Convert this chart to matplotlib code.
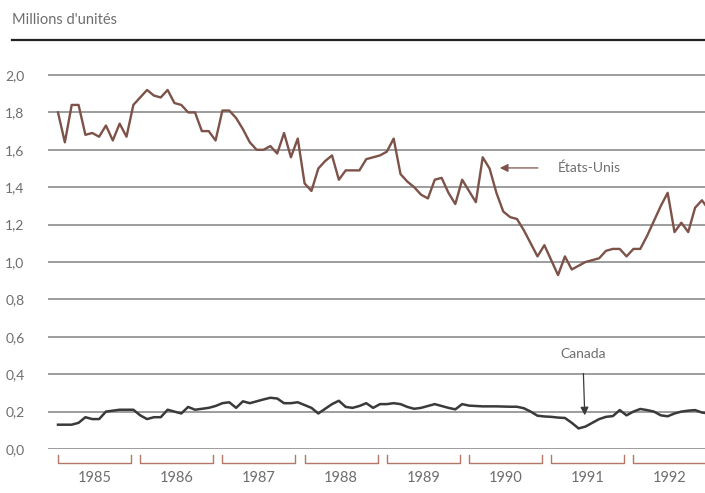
import numpy as np
import matplotlib
matplotlib.use("Agg")
import matplotlib.pyplot as plt

############################################
# DATA (millions d'unités, mensuel 1985-1992)
############################################

years = ["1985", "1986", "1987", "1988", "1989", "1990", "1991", "1992"]

etats_unis = [
    1.80, 1.64, 1.84, 1.84, 1.68, 1.69, 1.67, 1.73, 1.65, 1.74, 1.67, 1.84,  # 1985
    1.88, 1.92, 1.89, 1.88, 1.92, 1.85, 1.84, 1.80, 1.80, 1.70, 1.70, 1.65,  # 1986
    1.81, 1.81, 1.77, 1.71, 1.64, 1.60, 1.60, 1.62, 1.58, 1.69, 1.56, 1.66,  # 1987
    1.42, 1.38, 1.50, 1.54, 1.57, 1.44, 1.49, 1.49, 1.49, 1.55, 1.56, 1.57,  # 1988
    1.59, 1.66, 1.47, 1.43, 1.40, 1.36, 1.34, 1.44, 1.45, 1.37, 1.31, 1.44,  # 1989
    1.38, 1.32, 1.56, 1.50, 1.37, 1.27, 1.24, 1.23, 1.17, 1.10, 1.03, 1.09,  # 1990
    1.01, 0.93, 1.03, 0.96, 0.98, 1.00, 1.01, 1.02, 1.06, 1.07, 1.07, 1.03,  # 1991
    1.07, 1.07, 1.14, 1.22, 1.30, 1.37, 1.16, 1.21, 1.16, 1.29, 1.33, 1.28,  # 1992
]

canada = [
    0.13, 0.13, 0.13, 0.14, 0.17, 0.16, 0.16, 0.20, 0.205, 0.21, 0.21, 0.21,
    0.18, 0.16, 0.17, 0.17, 0.21, 0.20, 0.19, 0.225, 0.21, 0.215, 0.22, 0.23,
    0.245, 0.25, 0.22, 0.255, 0.245, 0.255, 0.265, 0.274, 0.27, 0.245, 0.245, 0.25,
    0.235, 0.22, 0.19, 0.215, 0.24, 0.258, 0.225, 0.22, 0.23, 0.245, 0.22, 0.24,
    0.24, 0.245, 0.24, 0.225, 0.215, 0.22, 0.23, 0.24, 0.23, 0.22, 0.212, 0.24,
    0.232, 0.23, 0.228, 0.228, 0.228, 0.227, 0.226, 0.226, 0.218, 0.20, 0.178, 0.174,
    0.172, 0.168, 0.166, 0.14, 0.11, 0.12, 0.14, 0.16, 0.172, 0.176, 0.208, 0.18,
    0.20, 0.214, 0.208, 0.20, 0.18, 0.175, 0.19, 0.20, 0.205, 0.208, 0.195, 0.19,
]

y_ticks = [0.0, 0.2, 0.4, 0.6, 0.8, 1.0, 1.2, 1.4, 1.6, 1.8, 2.0]
y_labels = ["0,0", "0,2", "0,4", "0,6", "0,8", "1,0", "1,2", "1,4", "1,6", "1,8", "2,0"]

############################################
# STYLE
############################################

plt.rcParams["font.family"] = ["Lato", "DejaVu Sans"]

US_COLOR = "#7d5249"
CA_COLOR = "#3a3a3a"
GRID_COLOR = "#8c8c8c"
TEXT_COLOR = "#6e6e6e"
BRACKET_COLOR = "#b5766a"

W, H = 705, 493
fig = plt.figure(figsize=(W / 100, H / 100), dpi=100)

# axes: x from pixel 48 to 705, y from pixel 55 (top) to 449 (value 0)
ax = fig.add_axes([48 / W, (H - 449) / H, (W - 48) / W, (449 - 55) / H])

months = np.arange(len(etats_unis))
ax.set_xlim(-1.46, 94.45)
ax.set_ylim(0, 2.107)

for v in y_ticks:
    ax.axhline(v, color=GRID_COLOR, lw=1.2, zorder=1)

ax.plot(months, etats_unis, color=US_COLOR, lw=1.7, zorder=3)
ax.plot(months, canada, color=CA_COLOR, lw=1.8, zorder=3)

ax.set_yticks(y_ticks)
ax.set_yticklabels(y_labels, color=TEXT_COLOR, fontsize=10)
ax.tick_params(axis="y", length=0, pad=17)
ax.set_xticks([])
for s in ax.spines.values():
    s.set_visible(False)

############################################
# YEAR BRACKETS
############################################

for k, yr in enumerate(years):
    x0 = 12 * k
    x1 = 12 * k + 10.65
    ax.plot([x0, x0, x1, x1], [-0.032, -0.075, -0.075, -0.032],
            color=BRACKET_COLOR, lw=1.0, clip_on=False)
    ax.text((x0 + x1) / 2, -0.155, yr, ha="center", va="center",
            fontsize=10.5, color=TEXT_COLOR, clip_on=False)

############################################
# LABELS
############################################

ax.annotate("États-Unis", xy=(64.5, 1.503), xytext=(72.9, 1.503),
            ha="left", va="center", fontsize=10, color=TEXT_COLOR,
            arrowprops=dict(arrowstyle="-|>", color=US_COLOR, lw=0.9,
                            mutation_scale=12, shrinkA=12, shrinkB=0))

ax.annotate("Canada", xy=(76.9, 0.18), xytext=(76.6, 0.51),
            ha="center", va="center", fontsize=10, color=TEXT_COLOR,
            arrowprops=dict(arrowstyle="-|>", color=CA_COLOR, lw=0.9,
                            mutation_scale=12, shrinkA=8, shrinkB=0))

# heading and top rule
fig.text(12 / W, 1 - 20 / H, "Millions d'unités", ha="left", va="center",
         fontsize=10.5, color=TEXT_COLOR)
fig.add_artist(plt.Line2D([12 / W, 1.0], [1 - 40 / H, 1 - 40 / H],
                          color="#222222", lw=1.6))

fig.savefig("out.png", dpi=100)
